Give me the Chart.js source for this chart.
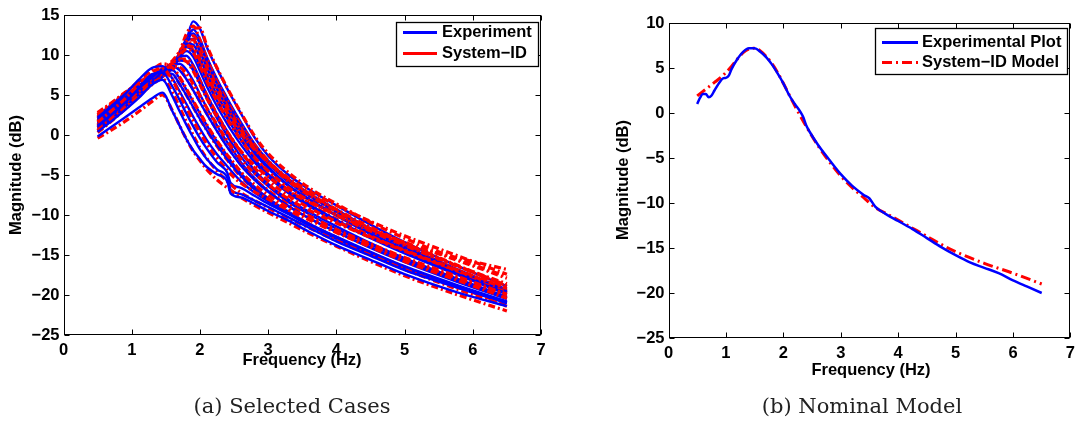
<!DOCTYPE html>
<html>
<head>
<meta charset="utf-8">
<script src="https://cdn.jsdelivr.net/npm/chart.js@4.4.1/dist/chart.umd.min.js"></script>
<style>
  html, body { margin: 0; padding: 0; background: #fff; }
  #wrap { position: relative; width: 1081px; height: 422px; overflow: hidden; }
  canvas { position: absolute; top: 0; }
  #casesChart { left: 0; }
  #nominalChart { left: 560px; }
</style>
</head>
<body>
<div id="wrap">
  <canvas id="casesChart" width="560" height="422"></canvas>
  <canvas id="nominalChart" width="521" height="422"></canvas>
</div>
<script>
// ---- selected cases: magnitude (dB) on a shared frequency grid (Hz)
const caseFreq = [0.5, 0.7, 0.9, 1.1, 1.3, 1.45, 1.6, 1.7, 1.8, 1.9, 2.0, 2.1, 2.25, 2.4, 2.45, 2.6, 2.8, 3.0, 3.3, 3.6, 4.0, 4.5, 5.0, 5.75, 6.5];

const experimentCases = [
  [-0.2, 1.0, 2.2, 3.4, 4.6, 5.3, 2.9, 1.2, -0.5, -1.9, -3.0, -4.0, -4.9, -5.8, -7.3, -7.8, -8.6, -9.5, -10.7, -12.1, -13.8, -15.6, -17.4, -19.6, -21.4],
  [0.4, 1.7, 3.1, 4.6, 6.3, 6.9, 4.8, 3.0, 1.3, -0.3, -1.8, -3.0, -4.3, -5.3, -6.8, -7.4, -8.2, -9.0, -10.3, -11.6, -13.3, -15.1, -16.9, -19.0, -20.9],
  [1.0, 2.5, 4.0, 5.8, 7.6, 7.8, 6.0, 4.4, 2.7, 1.1, -0.4, -1.7, -3.4, -4.7, -6.0, -6.6, -7.6, -8.6, -9.9, -11.3, -13.0, -14.9, -16.7, -19.0, -21.0],
  [2.2, 3.6, 5.1, 6.9, 8.4, 8.6, 7.0, 5.5, 3.9, 2.3, 0.8, -0.6, -2.4, -3.9, -4.4, -5.8, -7.2, -8.3, -9.8, -11.1, -12.7, -14.6, -16.4, -18.7, -20.8],
  [0.6, 2.0, 3.5, 5.0, 6.6, 7.8, 7.6, 6.4, 5.0, 3.5, 2.0, 0.6, -1.3, -3.0, -3.6, -5.1, -6.8, -8.1, -9.8, -11.2, -12.9, -14.8, -16.6, -18.9, -21.0],
  [1.5, 2.9, 4.3, 5.8, 7.2, 8.1, 8.1, 7.1, 5.7, 4.2, 2.7, 1.2, -0.8, -2.6, -3.2, -4.8, -6.5, -7.9, -9.6, -11.1, -12.8, -14.7, -16.5, -18.8, -20.9],
  [2.0, 3.3, 4.7, 6.1, 7.4, 8.2, 8.6, 8.1, 7.0, 5.6, 4.1, 2.6, 0.5, -1.5, -2.1, -3.8, -5.6, -7.1, -8.9, -10.4, -12.1, -14.0, -15.8, -18.1, -20.4],
  [1.2, 2.6, 4.0, 5.4, 6.8, 7.9, 8.7, 8.9, 8.2, 6.8, 5.1, 3.4, 1.2, -0.9, -1.5, -3.4, -5.4, -7.0, -8.9, -10.4, -12.1, -14.1, -15.9, -18.3, -20.5],
  [1.0, 2.4, 3.9, 5.3, 6.7, 7.8, 8.8, 9.3, 9.2, 8.1, 6.4, 4.6, 2.1, -0.1, -0.8, -2.7, -4.8, -6.4, -8.4, -9.9, -11.7, -13.7, -15.6, -18.0, -20.3],
  [1.8, 3.2, 4.6, 5.9, 7.2, 8.1, 9.0, 9.7, 9.9, 8.8, 7.0, 5.1, 2.6, 0.5, -0.2, -2.1, -4.4, -6.1, -8.1, -9.6, -11.4, -13.5, -15.4, -17.9, -20.2],
  [1.6, 3.0, 4.4, 5.7, 7.0, 7.8, 8.8, 9.7, 10.5, 9.8, 8.0, 6.1, 3.6, 1.4, 0.7, -1.2, -3.4, -5.2, -7.3, -8.9, -10.8, -12.9, -14.8, -17.4, -19.9],
  [0.9, 2.3, 3.8, 5.2, 6.5, 7.5, 8.7, 9.8, 11.0, 10.4, 8.7, 6.8, 4.3, 2.1, 1.4, -0.6, -3.0, -4.9, -7.1, -8.7, -10.6, -12.8, -14.7, -17.3, -19.8],
  [2.2, 3.5, 4.8, 6.0, 7.1, 7.8, 8.9, 10.0, 11.4, 11.3, 9.6, 7.6, 5.0, 2.8, 2.0, 0.0, -2.3, -4.2, -6.4, -8.1, -10.1, -12.4, -14.4, -17.1, -19.7],
  [2.4, 3.8, 5.2, 6.6, 7.5, 8.0, 9.0, 10.2, 11.9, 12.0, 10.4, 8.4, 5.7, 3.4, 2.6, 0.5, -2.0, -4.0, -6.3, -8.0, -10.0, -12.3, -14.3, -17.0, -19.6],
  [0.8, 2.2, 3.7, 5.1, 6.4, 7.2, 8.4, 9.7, 11.6, 12.7, 11.4, 9.2, 6.4, 4.0, 3.2, 1.0, -1.5, -3.6, -5.9, -7.6, -9.6, -12.0, -14.0, -16.9, -19.5],
  [1.4, 2.8, 4.2, 5.5, 6.7, 7.4, 8.5, 9.8, 11.6, 13.2, 12.0, 9.8, 7.0, 4.6, 3.8, 1.6, -1.1, -3.2, -5.5, -7.3, -9.3, -11.7, -13.8, -16.7, -19.3],
  [2.0, 3.3, 4.6, 5.8, 6.8, 7.5, 8.6, 9.9, 11.8, 14.2, 13.3, 11.0, 8.3, 5.8, 5.0, 2.7, -0.3, -2.6, -5.0, -6.8, -8.8, -11.2, -13.4, -16.3, -18.9]
];

const sysIdCases = [
  [-0.4, 0.6, 1.7, 2.9, 4.2, 5.0, 3.0, 1.2, -0.5, -2.0, -3.2, -4.3, -5.6, -6.6, -6.9, -7.8, -8.8, -9.7, -11.0, -12.3, -13.9, -15.8, -17.6, -19.9, -22.0],
  [0.6, 2.0, 3.4, 4.9, 6.5, 7.0, 5.3, 3.5, 1.7, 0.0, -1.6, -2.9, -4.5, -5.8, -6.2, -7.2, -8.2, -9.1, -10.4, -11.6, -13.2, -15.0, -16.8, -19.2, -21.4],
  [1.6, 3.0, 4.5, 6.2, 7.9, 8.3, 6.8, 5.1, 3.4, 1.8, 0.3, -1.1, -2.9, -4.4, -4.9, -6.0, -7.1, -8.0, -9.4, -10.6, -12.2, -14.0, -15.8, -18.1, -20.4],
  [2.5, 3.8, 5.2, 6.7, 8.1, 8.9, 8.4, 7.3, 5.8, 4.3, 2.8, 1.3, -0.7, -2.5, -3.0, -4.6, -6.2, -7.5, -9.1, -10.4, -12.0, -13.8, -15.5, -17.8, -20.0],
  [0.3, 1.7, 3.2, 4.8, 6.5, 7.6, 7.5, 6.4, 5.0, 3.5, 2.0, 0.6, -1.4, -3.1, -3.7, -5.2, -6.8, -8.1, -9.7, -11.1, -12.8, -14.7, -16.5, -18.9, -21.2],
  [0.9, 2.4, 3.9, 5.4, 6.9, 8.0, 8.6, 8.5, 7.7, 6.4, 4.9, 3.4, 1.3, -0.7, -1.3, -3.0, -4.8, -6.2, -8.0, -9.4, -11.0, -12.8, -14.5, -16.9, -19.2],
  [1.7, 3.1, 4.6, 6.0, 7.4, 8.3, 8.7, 8.2, 7.1, 5.7, 4.2, 2.7, 0.6, -1.4, -2.0, -3.7, -5.5, -6.9, -8.7, -10.1, -11.8, -13.6, -15.3, -17.6, -19.9],
  [2.0, 3.4, 4.8, 6.1, 7.3, 8.2, 9.0, 9.4, 9.2, 8.0, 6.3, 4.6, 2.3, 0.3, -0.3, -2.0, -3.8, -5.2, -7.0, -8.4, -10.0, -11.8, -13.4, -15.6, -17.9],
  [1.2, 2.6, 4.0, 5.4, 6.8, 7.9, 8.9, 9.5, 9.5, 8.5, 6.8, 5.0, 2.6, 0.4, -0.2, -2.1, -4.1, -5.7, -7.6, -9.1, -10.8, -12.7, -14.4, -16.8, -19.0],
  [2.3, 3.6, 5.0, 6.3, 7.4, 8.1, 9.0, 9.9, 10.7, 10.3, 8.6, 6.7, 4.2, 2.0, 1.3, -0.6, -2.8, -4.5, -6.6, -8.2, -10.0, -12.0, -13.8, -16.3, -18.6],
  [1.3, 2.7, 4.1, 5.5, 6.8, 7.7, 8.8, 9.9, 11.1, 11.0, 9.4, 7.5, 5.0, 2.8, 2.1, 0.2, -1.8, -3.4, -5.4, -7.0, -8.8, -10.8, -12.6, -15.0, -17.4],
  [2.6, 3.9, 5.2, 6.4, 7.5, 8.3, 9.3, 10.4, 11.3, 10.6, 8.9, 7.0, 4.4, 2.2, 1.5, -0.5, -2.8, -4.7, -6.9, -8.6, -10.5, -12.6, -14.5, -17.2, -19.7],
  [2.8, 4.0, 5.3, 6.5, 7.5, 8.2, 9.1, 10.3, 11.7, 11.9, 10.3, 8.3, 5.7, 3.4, 2.6, 0.6, -1.6, -3.4, -5.6, -7.3, -9.3, -11.5, -13.5, -16.2, -18.8],
  [0.5, 1.9, 3.4, 4.9, 6.3, 7.3, 8.5, 9.8, 11.5, 12.4, 11.0, 8.9, 6.1, 3.7, 2.9, 0.8, -1.6, -3.5, -5.8, -7.5, -9.5, -11.7, -13.6, -16.3, -18.9],
  [1.8, 3.1, 4.5, 5.8, 7.0, 7.8, 8.9, 10.3, 12.6, 13.6, 11.9, 9.6, 6.7, 4.3, 3.5, 1.3, -1.2, -3.2, -5.6, -7.4, -9.5, -11.9, -14.0, -16.8, -19.5],
  [2.2, 3.5, 4.8, 6.0, 7.0, 7.7, 8.7, 9.8, 11.4, 13.3, 13.4, 11.2, 8.4, 5.9, 5.1, 2.8, -0.1, -2.3, -4.7, -6.6, -8.6, -10.9, -12.9, -15.4, -17.7],
  [1.0, 2.4, 3.8, 5.2, 6.6, 7.6, 8.6, 9.6, 10.9, 11.7, 10.7, 9.0, 6.4, 4.0, 3.3, 1.1, -1.4, -3.4, -5.8, -7.7, -9.7, -11.9, -13.7, -15.3, -16.8]
];

// ---- nominal model
const nominalExpFreq = [0.5, 0.55, 0.6, 0.65, 0.7, 0.75, 0.8, 0.9, 0.95, 1.0, 1.05, 1.1, 1.2, 1.3, 1.4, 1.5, 1.6, 1.7, 1.8, 1.9, 2.0, 2.1, 2.2, 2.3, 2.35, 2.4, 2.45, 2.6, 2.8, 3.0, 3.2, 3.4, 3.5, 3.6, 3.7, 3.8, 4.0, 4.25, 4.5, 4.75, 5.0, 5.25, 5.5, 5.75, 6.0, 6.25, 6.5];
const nominalExpMag = [1.0, 1.7, 2.1, 2.1, 1.75, 1.95, 2.5, 3.5, 3.85, 3.9, 4.15, 4.9, 6.0, 6.8, 7.2, 7.2, 6.8, 6.2, 5.4, 4.4, 3.3, 2.0, 1.0, 0.1, -0.5, -1.4, -2.0, -3.5, -5.2, -6.8, -8.1, -9.1, -9.5, -10.4, -10.9, -11.3, -12.0, -12.9, -13.9, -14.9, -15.8, -16.6, -17.2, -17.8, -18.6, -19.3, -20.0];
const nominalIdFreq = [0.5, 0.6, 0.7, 0.8, 0.9, 1.0, 1.1, 1.2, 1.3, 1.4, 1.5, 1.6, 1.7, 1.8, 1.9, 2.0, 2.2, 2.4, 2.6, 2.8, 3.0, 3.2, 3.4, 3.6, 3.8, 4.0, 4.25, 4.5, 4.75, 5.0, 5.5, 6.0, 6.5];
const nominalIdMag = [1.9, 2.4, 2.9, 3.4, 3.9, 4.5, 5.2, 6.0, 6.7, 7.1, 7.2, 6.9, 6.3, 5.5, 4.5, 3.3, 0.8, -1.5, -3.6, -5.4, -7.0, -8.3, -9.4, -10.5, -11.2, -11.9, -12.8, -13.7, -14.6, -15.4, -16.7, -17.8, -19.0];

// ---- ticks and texts
const freqTicks = [0, 1, 2, 3, 4, 5, 6, 7];
const casesMagTicks = [-25, -20, -15, -10, -5, 0, 5, 10, 15];
const nominalMagTicks = [-25, -20, -15, -10, -5, 0, 5, 10];
const casesLegend = ['Experiment', 'System\u2212ID'];
const nominalLegend = ['Experimental Plot', 'System\u2212ID Model'];
const xTitle = 'Frequency (Hz)';
const yTitle = 'Magnitude (dB)';
const captions = ['(a) Selected Cases', '(b) Nominal Model'];

const BLUE = '#0000ff';
const RED = '#ff0000';
const SANS = '"Liberation Sans", Arial, Helvetica, sans-serif';
const LABEL_FONT = 'bold 16.5px ' + SANS;
const TICK_FONT = { family: SANS, size: 16.5, weight: 'bold' };

const minusSign = v => String(v).replace('-', '\u2212');
const points = (xs, ys) => xs.map((x, i) => ({ x: x, y: ys[i] }));

// box, inward ticks on all four sides, legend, axis titles and caption
const axesFrame = {
  id: 'axesFrame',
  afterDatasetsDraw(chart, args, o) {
    const { ctx, chartArea: a, scales } = chart;
    const L = Math.round(a.left) + 0.5, R = Math.round(a.right) - 0.5;
    const T = Math.round(a.top) + 0.5, B = Math.round(a.bottom) - 0.5;
    ctx.save();
    ctx.strokeStyle = '#000';
    ctx.lineWidth = 1;
    ctx.beginPath();
    scales.x.ticks.forEach(t => {
      const p = Math.round(scales.x.getPixelForValue(t.value)) + 0.5;
      ctx.moveTo(p, B); ctx.lineTo(p, B - 5);
      ctx.moveTo(p, T); ctx.lineTo(p, T + 5);
    });
    scales.y.ticks.forEach(t => {
      const p = Math.round(scales.y.getPixelForValue(t.value)) + 0.5;
      ctx.moveTo(L, p); ctx.lineTo(L + 5, p);
      ctx.moveTo(R, p); ctx.lineTo(R - 5, p);
    });
    ctx.stroke();
    ctx.strokeRect(L, T, R - L, B - T);

    // legend
    const lg = o.legend;
    ctx.fillStyle = '#fff';
    ctx.fillRect(lg.x, lg.y, lg.w, lg.h);
    ctx.lineWidth = 1.3;
    ctx.strokeStyle = '#000';
    ctx.strokeRect(lg.x + 0.5, lg.y + 0.5, lg.w, lg.h);
    ctx.font = LABEL_FONT;
    ctx.textAlign = 'left';
    ctx.textBaseline = 'middle';
    lg.labels.forEach((label, i) => {
      const y = lg.rows[i];
      const ds = chart.data.datasets[i];
      ctx.strokeStyle = ds.borderColor;
      ctx.lineWidth = 3;
      ctx.setLineDash(lg.dashed ? ds.borderDash || [] : []);
      ctx.beginPath();
      ctx.moveTo(lg.lineX0, y);
      ctx.lineTo(lg.lineX1, y);
      ctx.stroke();
      ctx.setLineDash([]);
      ctx.fillStyle = '#000';
      ctx.fillText(label, lg.textX, y);
    });

    // axis titles
    ctx.fillStyle = '#000';
    ctx.textAlign = 'center';
    ctx.fillText(xTitle, o.xTitleX, o.xTitleY);
    ctx.save();
    ctx.translate(o.yTitleX, o.yTitleY);
    ctx.rotate(-Math.PI / 2);
    ctx.fillText(yTitle, 0, 0);
    ctx.restore();

    // caption under the panel
    ctx.font = '21px "DejaVu Serif", "Liberation Serif", serif';
    ctx.textBaseline = 'alphabetic';
    ctx.fillStyle = '#222';
    ctx.fillText(o.caption, o.captionX, 413);
    ctx.restore();
  }
};

function makeOptions(cfg) {
  return {
    responsive: false,
    animation: false,
    events: [],
    layout: { padding: cfg.padding },
    elements: {
      point: { radius: 0 },
      line: { cubicInterpolationMode: 'monotone', borderJoinStyle: 'round' }
    },
    scales: {
      x: {
        type: 'linear', min: 0, max: 7,
        afterBuildTicks: s => { s.ticks = freqTicks.map(v => ({ value: v })); },
        afterFit: s => { s.height = cfg.xHeight; },
        grid: { display: false, drawTicks: false },
        border: { display: false },
        ticks: { font: TICK_FONT, color: '#000', padding: 6, maxRotation: 0, autoSkip: false, callback: minusSign }
      },
      y: {
        type: 'linear', min: cfg.yTicks[0], max: cfg.yTicks[cfg.yTicks.length - 1],
        afterBuildTicks: s => { s.ticks = cfg.yTicks.map(v => ({ value: v })); },
        afterFit: s => { s.width = cfg.yWidth; },
        grid: { display: false, drawTicks: false },
        border: { display: false },
        ticks: { font: TICK_FONT, color: '#000', padding: 4, autoSkip: false, callback: minusSign }
      }
    },
    plugins: {
      legend: { display: false },
      tooltip: { enabled: false },
      axesFrame: cfg.frame
    }
  };
}

// (a) all selected cases, experiment and identified model interleaved
const caseSets = [];
experimentCases.forEach((mag, i) => {
  caseSets.push({
    label: casesLegend[0],
    data: points(caseFreq, mag),
    borderColor: BLUE, borderWidth: 2.4, fill: false
  });
  caseSets.push({
    label: casesLegend[1],
    data: points(caseFreq, sysIdCases[i]),
    borderColor: RED, borderWidth: 3.2, borderDash: [7, 3, 2, 3], fill: false
  });
});

new Chart(document.getElementById('casesChart'), {
  type: 'line',
  data: { datasets: caseSets },
  options: makeOptions({
    padding: { left: 0, right: 19, top: 15, bottom: 0 },
    xHeight: 87, yWidth: 63.5, yTicks: casesMagTicks,
    frame: {
      legend: { x: 396, y: 22, w: 142, h: 44, rows: [32.5, 53.5], lineX0: 403, lineX1: 437, textX: 442, labels: casesLegend, dashed: false },
      xTitleX: 302, xTitleY: 360, yTitleX: 16, yTitleY: 175,
      caption: captions[0], captionX: 292
    }
  }),
  plugins: [axesFrame]
});

// (b) nominal model
new Chart(document.getElementById('nominalChart'), {
  type: 'line',
  data: {
    datasets: [
      { label: nominalLegend[0], data: points(nominalExpFreq, nominalExpMag), borderColor: BLUE, borderWidth: 2.5, fill: false },
      { label: nominalLegend[1], data: points(nominalIdFreq, nominalIdMag), borderColor: RED, borderWidth: 3, borderDash: [10, 4, 2, 4], fill: false }
    ]
  },
  options: makeOptions({
    padding: { left: 0, right: 8, top: 23, bottom: 0 },
    xHeight: 84, yWidth: 108.5, yTicks: nominalMagTicks,
    frame: {
      legend: { x: 315, y: 28, w: 192, h: 46, rows: [42.5, 62.5], lineX0: 322, lineX1: 358, textX: 362, labels: nominalLegend, dashed: true },
      xTitleX: 311, xTitleY: 370, yTitleX: 63, yTitleY: 180,
      caption: captions[1], captionX: 302
    }
  }),
  plugins: [axesFrame]
});
</script>
</body>
</html>
